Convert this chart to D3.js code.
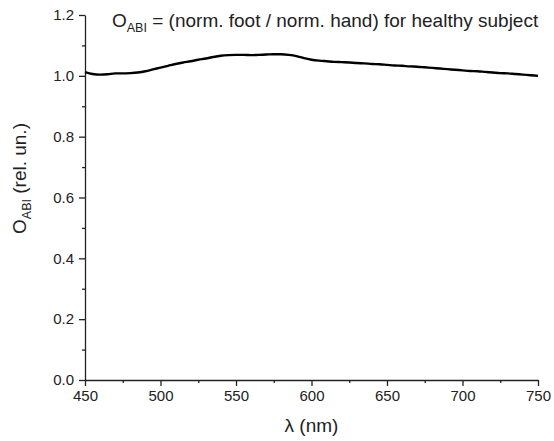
<!DOCTYPE html>
<html>
<head>
<meta charset="utf-8">
<script src="https://cdn.jsdelivr.net/npm/d3@7"></script>
<style>
  body { margin: 0; background: #fff; }
  text { font-family: "Liberation Sans", Arial, sans-serif; fill: #222; }
</style>
</head>
<body>
<svg id="chart" width="554" height="441"></svg>
<script>
// wavelength grid (nm) and ratio values
var wavelengths = d3.range(450, 751, 5);
var ratio = [
  1.012, 1.006, 1.004, 1.005, 1.008, 1.008, 1.009, 1.011, 1.015, 1.021,
  1.027, 1.033, 1.039, 1.044, 1.048, 1.053, 1.057, 1.062, 1.066, 1.068,
  1.069, 1.069, 1.068, 1.069, 1.070, 1.071, 1.071, 1.069, 1.065, 1.058,
  1.053, 1.050, 1.048, 1.046, 1.045, 1.044, 1.042, 1.041, 1.039, 1.038,
  1.036, 1.034, 1.033, 1.031, 1.030, 1.028, 1.026, 1.024, 1.022, 1.020,
  1.018, 1.016, 1.015, 1.013, 1.011, 1.009, 1.008, 1.006, 1.004, 1.002,
  1.000
];
var xTicks = [450, 500, 550, 600, 650, 700, 750];
var xMinor = [475, 525, 575, 625, 675, 725];
var yTicks = [0.0, 0.2, 0.4, 0.6, 0.8, 1.0, 1.2];
var yMinor = [0.1, 0.3, 0.5, 0.7, 0.9, 1.1];

var margin = {top: 15, right: 16, bottom: 61, left: 85},
    width = 554 - margin.left - margin.right,
    height = 441 - margin.top - margin.bottom;

var svg = d3.select("#chart")
  .append("g")
    .attr("transform", "translate(" + margin.left + "," + margin.top + ")");

var x = d3.scaleLinear().domain([450, 750]).range([0, width]),
    y = d3.scaleLinear().domain([0, 1.2]).range([height, 0]);

// minor ticks first, then major axis on top
svg.append("g")
    .attr("transform", "translate(0," + height + ")")
    .call(d3.axisBottom(x).tickValues(xMinor).tickSize(3).tickFormat(""))
    .call(g => g.select(".domain").remove());
svg.append("g")
    .call(d3.axisLeft(y).tickValues(yMinor).tickSize(3).tickFormat(""))
    .call(g => g.select(".domain").remove());

var xAxis = svg.append("g")
    .attr("transform", "translate(0," + height + ")")
    .call(d3.axisBottom(x).tickValues(xTicks).tickSize(6).tickSizeOuter(0).tickPadding(4));
var yAxis = svg.append("g")
    .call(d3.axisLeft(y).tickValues(yTicks).tickSize(6).tickSizeOuter(0).tickPadding(5)
      .tickFormat(d3.format(".1f")));

svg.selectAll(".tick line, .domain").attr("stroke", "#222").attr("stroke-width", 1.3);
svg.selectAll(".tick text").style("font-size", "15px")
    .style("font-family", "'Liberation Sans', Arial, sans-serif").attr("fill", "#333");

// the curve
var line = d3.line()
    .x(function(d, i) { return x(wavelengths[i]); })
    .y(function(d) { return y(d); })
    .curve(d3.curveMonotoneX);

svg.append("path")
    .datum(ratio)
    .attr("fill", "none")
    .attr("stroke", "#000")
    .attr("stroke-width", 2.4)
    .attr("stroke-linejoin", "round")
    .attr("d", line);

// title inside the plot
var title = svg.append("text")
    .attr("x", 27)
    .attr("y", 12)
    .style("font-size", "19px");
title.append("tspan").text("O");
title.append("tspan").attr("dy", 5).style("font-size", "12.5px").text("ABI");
title.append("tspan").attr("dy", -5).text(" = (norm. foot / norm. hand) for healthy subject");

// axis labels
svg.append("text")
    .attr("x", width / 2)
    .attr("y", height + 52)
    .attr("text-anchor", "middle")
    .style("font-size", "19px")
    .text("\u03bb (nm)");

var ylab = svg.append("text")
    .attr("transform", "translate(-59," + (height / 2 - 19) + ") rotate(-90)")
    .attr("text-anchor", "middle")
    .style("font-size", "19px");
ylab.append("tspan").text("O");
ylab.append("tspan").attr("dy", 5).style("font-size", "12.5px").text("ABI");
ylab.append("tspan").attr("dy", -5).text(" (rel. un.)");
</script>
</body>
</html>
